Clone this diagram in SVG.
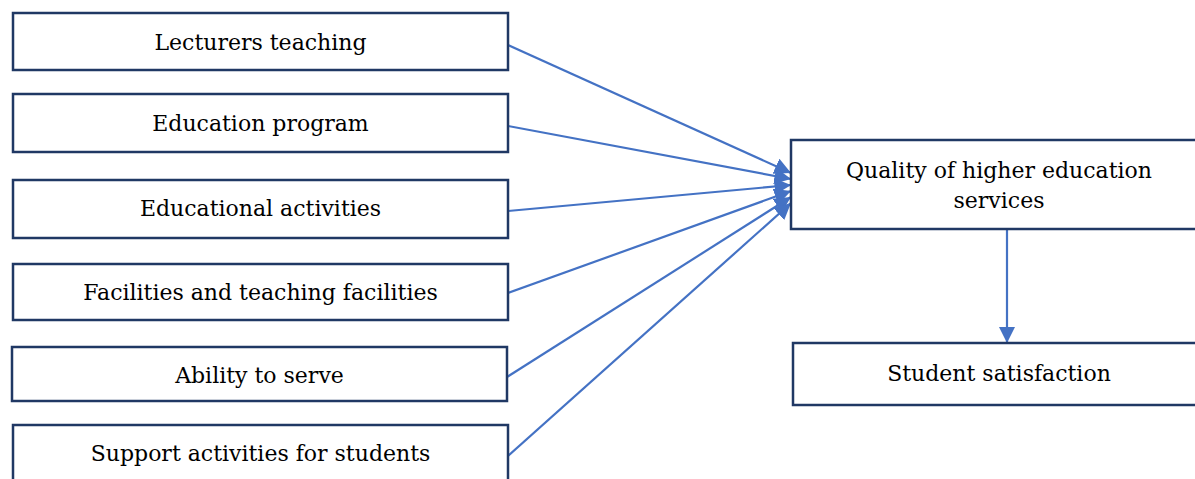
<svg xmlns="http://www.w3.org/2000/svg" width="1195" height="479" viewBox="0 0 1195 479">
<style>
.box{fill:#fff;stroke:#203864;stroke-width:2.5}
.t{font-family:"DejaVu Serif","Liberation Serif",serif;font-size:22px;fill:#000;text-anchor:middle}
.c{stroke:#4472C4;stroke-width:2.2;fill:none}
</style>
<defs>
<marker id="ah2" viewBox="0 0 10 10" refX="10" refY="5" markerWidth="7.5" markerHeight="7.5" orient="auto">
<path d="M0,0 L10,5 L0,10 z" fill="#4472C4"/>
</marker>
</defs>
<g id="connectors">
<line class="c" x1="508" y1="45" x2="791" y2="173" marker-end="url(#ah2)"/>
<line class="c" x1="508" y1="126" x2="791" y2="179" marker-end="url(#ah2)"/>
<line class="c" x1="508" y1="211" x2="791" y2="185" marker-end="url(#ah2)"/>
<line class="c" x1="508" y1="293" x2="791" y2="191" marker-end="url(#ah2)"/>
<line class="c" x1="507" y1="377" x2="791" y2="197" marker-end="url(#ah2)"/>
<line class="c" x1="508" y1="456" x2="791" y2="203" marker-end="url(#ah2)"/>
<line class="c" x1="1007" y1="226" x2="1007" y2="343" marker-end="url(#ah2)"/>
</g>
<g id="n1"><rect class="box" x="13" y="13" width="495" height="57"/><text class="t" x="260.5" y="50">Lecturers teaching</text></g>
<g id="n2"><rect class="box" x="13" y="94" width="495" height="58"/><text class="t" x="260.5" y="131">Education program</text></g>
<g id="n3"><rect class="box" x="13" y="180" width="495" height="58"/><text class="t" x="260.5" y="216">Educational activities</text></g>
<g id="n4"><rect class="box" x="13" y="264" width="495" height="56"/><text class="t" x="260.5" y="300">Facilities and teaching facilities</text></g>
<g id="n5"><rect class="box" x="12" y="347" width="495" height="54"/><text class="t" x="259.5" y="383">Ability to serve</text></g>
<g id="n6"><rect class="box" x="13" y="425" width="495" height="60"/><text class="t" x="260.5" y="461">Support activities for students</text></g>
<g id="n7"><rect class="box" x="791" y="140" width="420" height="89"/><text class="t" x="999" y="178">Quality of higher education</text><text class="t" x="999" y="208">services</text></g>
<g id="n8"><rect class="box" x="793" y="343" width="420" height="62"/><text class="t" x="999" y="381">Student satisfaction</text></g>
</svg>
